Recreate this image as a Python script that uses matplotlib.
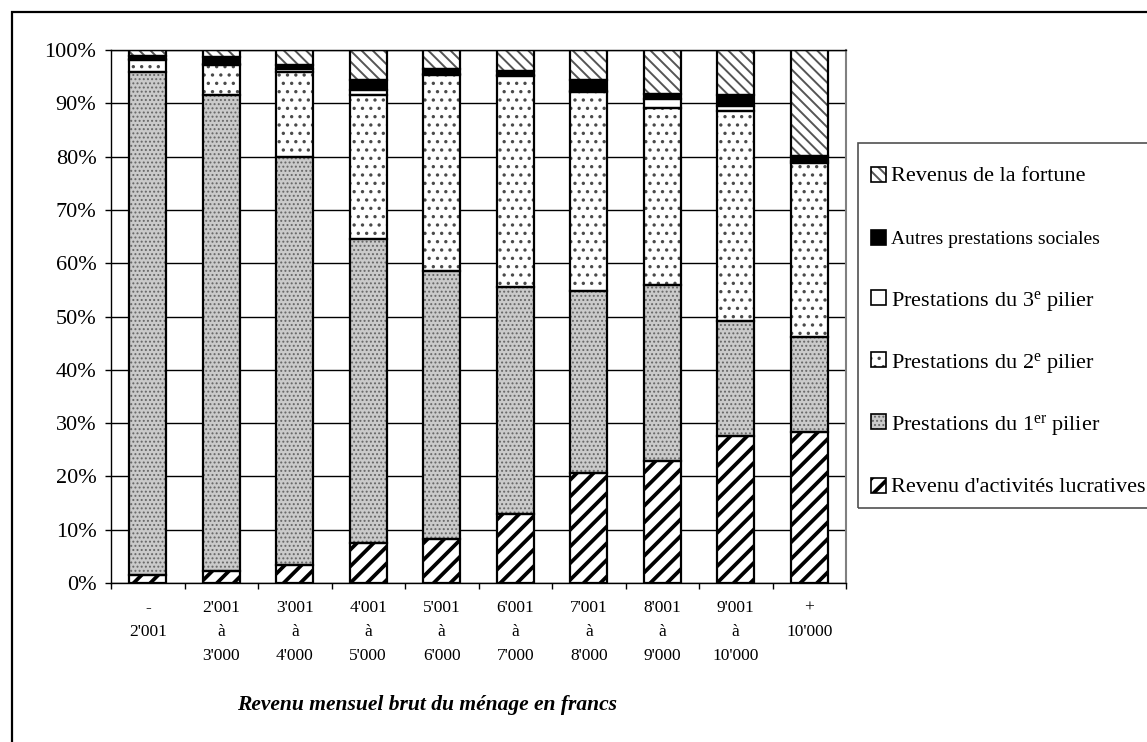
import matplotlib
matplotlib.use('Agg')
import matplotlib.pyplot as plt
from matplotlib.patches import Rectangle
import numpy as np

plt.rcParams['font.family'] = ['Liberation Serif', 'DejaVu Serif']
plt.rcParams['mathtext.fontset'] = 'custom'
plt.rcParams['mathtext.rm'] = 'Liberation Serif'
plt.rcParams['mathtext.it'] = 'Liberation Serif:italic'
plt.rcParams['mathtext.bf'] = 'Liberation Serif:bold'

# ---------------- data (percent) ----------------
categories = ["-\n2'001", "2'001\nà\n3'000", "3'001\nà\n4'000", "4'001\nà\n5'000",
              "5'001\nà\n6'000", "6'001\nà\n7'000", "7'001\nà\n8'000",
              "8'001\nà\n9'000", "9'001\nà\n10'000", "+\n10'000"]
lucratives = [1.5, 2.2, 3.3, 7.5, 8.2, 13.0, 20.7, 22.8, 27.5, 28.3]
pilier1 = [94.3, 89.3, 76.7, 57.1, 50.3, 42.5, 34.1, 33.2, 21.7, 17.9]
pilier2 = [2.3, 5.7, 15.8, 26.9, 36.8, 39.7, 37.4, 33.2, 39.3, 32.6]
pilier3 = [0.2, 0.2, 0.7, 1.0, 0.2, 0.2, 0.1, 1.6, 0.9, 0.3]
autres = [0.6, 1.3, 0.6, 1.9, 0.9, 0.6, 2.0, 0.9, 2.2, 1.0]
fortune = [1.1, 1.3, 2.9, 5.6, 3.6, 4.0, 5.7, 8.3, 8.4, 19.9]

yticks = list(range(0, 101, 10))
ytick_labels = [f"{v}%" for v in yticks]
xlabel = "Revenu mensuel brut du ménage en francs"

labels = ["Revenu d'activités lucratives",
          r"Prestations du 1$^{\mathrm{er}}$ pilier",
          r"Prestations du 2$^{\mathrm{e}}$ pilier",
          r"Prestations du 3$^{\mathrm{e}}$ pilier",
          "Autres prestations sociales",
          "Revenus de la fortune"]
series = [lucratives, pilier1, pilier2, pilier3, autres, fortune]

# style: facecolor, hatch, hatch colour, hatch linewidth
styles = [
    ('white', '//', 'black', 2.7),
    ('#cacaca', '....', '#666666', 0.9),
    ('white', '..', '#4a4a4a', 1.2),
    ('white', None, 'white', 0.5),
    ('black', None, 'black', 0.5),
    ('white', '\\\\\\', '#555555', 1.4),
]

W, H = 1147, 742
fig = plt.figure(figsize=(W / 100, H / 100), dpi=100)
ax = fig.add_axes([111 / W, 1 - 583 / H, (846 - 111) / W, (583 - 50) / H])

x = np.arange(len(categories))
width = 0.5


def set_hlw(patch, lw):
    try:
        patch.set_hatch_linewidth(lw)
    except AttributeError:
        pass


bottom = np.zeros(len(categories))
for vals, (fc, hatch, hc, hlw) in zip(series, styles):
    vals = np.array(vals)
    plt.rcParams['hatch.linewidth'] = hlw
    bars = ax.bar(x, vals, width, bottom=bottom, color=fc, hatch=hatch,
                  edgecolor=hc, linewidth=0, zorder=2)
    for p in bars:
        set_hlw(p, hlw)
    ax.bar(x, vals, width, bottom=bottom, fill=False, edgecolor='black',
           linewidth=1.6, zorder=3)
    bottom = bottom + vals

ax.set_xlim(-0.5, len(categories) - 0.5)
ax.set_ylim(0, 100)
ax.set_yticks(yticks, ytick_labels)
ax.yaxis.grid(True, color='black', linewidth=1.0)
ax.set_axisbelow(True)
ax.tick_params(axis='y', direction='out', length=4.5, width=1, labelsize=16, pad=6)

ax.set_xticks(x, categories)
ax.set_xticks(np.arange(-0.5, len(categories), 1), minor=True)
ax.tick_params(axis='x', which='major', length=0, labelsize=12.5, pad=12)
ax.tick_params(axis='x', which='minor', direction='out', length=4.5, width=1)
for t in ax.get_xticklabels():
    t.set_linespacing(1.68)

for s in ['left', 'bottom', 'top']:
    ax.spines[s].set_color('black')
    ax.spines[s].set_linewidth(1.0)
ax.spines['right'].set_color('#808080')
ax.spines['right'].set_linewidth(1.5)

fig.text(427 / W, 1 - 705 / H, xlabel, fontsize=15.5, fontweight='bold',
         fontstyle='italic', ha='center', va='center')

# outer frame
fig.add_artist(Rectangle((12 / W, -0.1), 1.2, 1 - 12 / H + 0.1,
                         transform=fig.transFigure, fill=False,
                         edgecolor='black', linewidth=1.6))

# legend (manual)
fig.add_artist(Rectangle((858 / W, 1 - 508 / H), 1.0, (508 - 143) / H,
                         transform=fig.transFigure, fill=False,
                         edgecolor='#505050', linewidth=1.2))
row_y = [485, 422, 360, 298, 237, 174]
font_sizes = [16, 16, 16, 16, 14, 16]
hs = 15
for lab, (fc, hatch, hc, hlw), yc, fs in zip(labels, styles, row_y, font_sizes):
    plt.rcParams['hatch.linewidth'] = hlw
    r = Rectangle((871 / W, 1 - (yc + hs / 2) / H), hs / W, hs / H,
                  transform=fig.transFigure, facecolor=fc, hatch=hatch,
                  edgecolor=hc, linewidth=0)
    set_hlw(r, hlw)
    fig.add_artist(r)
    fig.add_artist(Rectangle((871 / W, 1 - (yc + hs / 2) / H), hs / W, hs / H,
                             transform=fig.transFigure, fill=False,
                             edgecolor='black', linewidth=1.2))
    fig.text(891 / W, 1 - yc / H, lab, fontsize=fs, ha='left',
             va='center_baseline')

fig.savefig('out.png', dpi=100)
